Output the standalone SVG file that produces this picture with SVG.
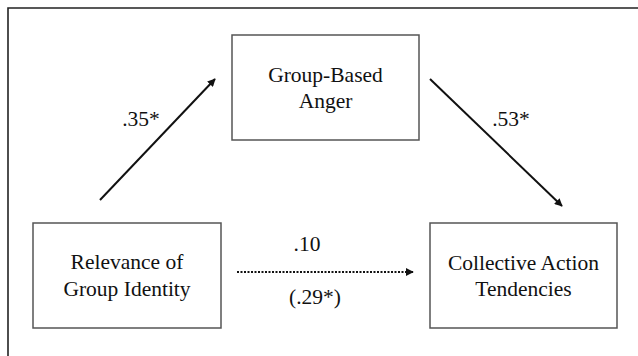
<svg xmlns="http://www.w3.org/2000/svg" width="638" height="356" viewBox="0 0 638 356">
<style>
.box{fill:#fff;stroke:#555;stroke-width:1.5}
.t{font-family:'Liberation Serif','Times New Roman',Times,'DejaVu Serif',serif;font-size:21.5px;fill:#111;text-anchor:middle}
.c{stroke:#111;stroke-width:2;fill:none}
</style>
<defs>
<marker id="ah" viewBox="0 0 10 10" refX="9" refY="5" markerWidth="4" markerHeight="4" orient="auto" markerUnits="strokeWidth">
<path d="M0,0 L10,5 L0,10 z" fill="#111"/>
</marker>
</defs>
<rect x="0" y="0" width="638" height="356" fill="#fff"/>
<path d="M8,356 L8,8 L638,8" fill="none" stroke="#222" stroke-width="1.6"/>
<g id="anger">
<rect class="box" x="232" y="35" width="187" height="105"/>
<text class="t" x="325.5" y="82" font-family="Liberation Serif, serif">Group-Based</text>
<text class="t" x="325.5" y="108">Anger</text>
</g>
<g id="relevance">
<rect class="box" x="33" y="223" width="188" height="105"/>
<text class="t" x="127" y="269">Relevance of</text>
<text class="t" x="127" y="296">Group Identity</text>
</g>
<g id="collective">
<rect class="box" x="430" y="223" width="187" height="105"/>
<text class="t" x="523.5" y="270">Collective Action</text>
<text class="t" x="523.5" y="296">Tendencies</text>
</g>
<g id="connectors">
<line class="c" x1="100" y1="200" x2="215" y2="79" marker-end="url(#ah)"/>
<line class="c" x1="430" y1="79" x2="562" y2="206" marker-end="url(#ah)"/>
<line class="c" x1="237" y1="272" x2="413" y2="272" stroke-dasharray="2,1.5" marker-end="url(#ah)"/>
<text class="t" x="141" y="126">.35*</text>
<text class="t" x="511" y="126">.53*</text>
<text class="t" x="307" y="251">.10</text>
<text class="t" x="315" y="304">(.29*)</text>
</g>
</svg>
